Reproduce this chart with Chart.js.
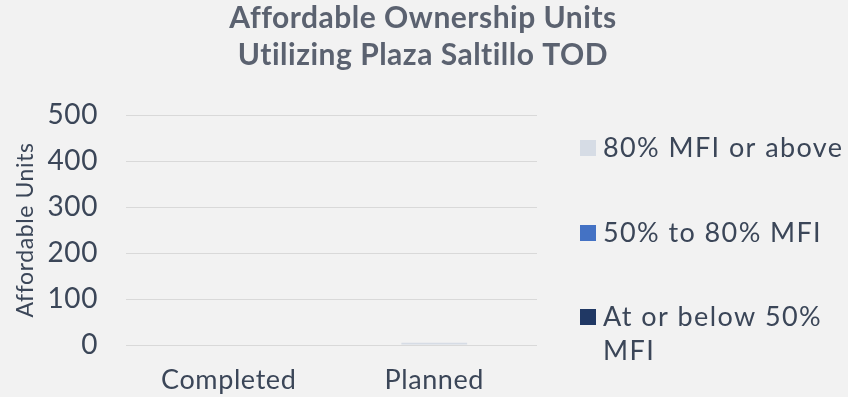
<!DOCTYPE html>
<html lang="en">
<head>
    <meta charset="UTF-8">
    <title>Affordable Ownership Units</title>
    <script src="https://cdn.jsdelivr.net/npm/chart.js@4.4.1/dist/chart.umd.min.js"></script>
    <style>
        html, body { margin: 0; padding: 0; background: #f2f2f2; }
        #wrap { width: 848px; height: 397px; }
    </style>
</head>
<body>
    <div id="wrap"><canvas id="unitsChart" width="848" height="397"></canvas></div>

    <script>
        // categories and units per income band
        var categories = ['Completed', 'Planned'];
        var atOrBelow50 = [0, 0];
        var from50to80 = [0, 0];
        var above80 = [0, 5];
        var yTicks = [0, 100, 200, 300, 400, 500];
        var titleLines = ['Affordable Ownership Units', 'Utilizing Plaza Saltillo TOD'];

        var textColor = '#3b4658';
        var fontFamily = 'Lato, "Open Sans", sans-serif';

        // wider tracking to get closer to the geometric face of the original
        var tracking = {
            id: 'tracking',
            beforeUpdate: function(chart) { chart.ctx.letterSpacing = '0.6px'; },
            beforeDraw: function(chart) { chart.ctx.letterSpacing = '0.6px'; }
        };

        // title across the whole canvas plus the legend on the right
        var sideLegend = {
            id: 'sideLegend',
            afterDraw: function(chart) {
                var ctx = chart.ctx;
                ctx.save();
                ctx.textBaseline = 'middle';
                ctx.textAlign = 'center';
                ctx.fillStyle = '#5b6270';
                ctx.letterSpacing = '0.5px';
                ctx.font = 'bold 30px ' + fontFamily;
                titleLines.forEach(function(line, i) {
                    ctx.fillText(line, 423, 18 + i * 37);
                });

                var items = [
                    { ds: chart.data.datasets[2], lines: ['80% MFI or above'], y: 148 },
                    { ds: chart.data.datasets[1], lines: ['50% to 80% MFI'], y: 233 },
                    { ds: chart.data.datasets[0], lines: ['At or below 50%', 'MFI'], y: 317 }
                ];
                ctx.textAlign = 'left';
                ctx.letterSpacing = '1.4px';
                ctx.font = '27px ' + fontFamily;
                items.forEach(function(it) {
                    ctx.fillStyle = it.ds.backgroundColor;
                    ctx.fillRect(580, it.y - 8, 16, 16);
                    ctx.fillStyle = textColor;
                    it.lines.forEach(function(line, i) {
                        ctx.fillText(line, 603, it.y + i * 34);
                    });
                });
                ctx.restore();
            }
        };

        new Chart(document.getElementById('unitsChart'), {
            type: 'bar',
            data: {
                labels: categories,
                datasets: [
                    { label: 'At or below 50% MFI', data: atOrBelow50, backgroundColor: '#203864' },
                    { label: '50% to 80% MFI', data: from50to80, backgroundColor: '#4472c4' },
                    { label: '80% MFI or above', data: above80, backgroundColor: '#d6dce5' }
                ]
            },
            options: {
                responsive: false,
                animation: false,
                layout: { padding: { left: 12, right: 311, top: 115, bottom: 0 } },
                datasets: { bar: { categoryPercentage: 1, barPercentage: 0.32 } },
                plugins: {
                    legend: { display: false },
                    tooltip: { enabled: false },
                    title: { display: false }
                },
                scales: {
                    x: {
                        stacked: true,
                        afterFit: function(axis) { axis.height = 52; },
                        grid: { display: false, drawTicks: false },
                        border: { display: false },
                        ticks: { color: textColor, font: { family: fontFamily, size: 27 }, padding: 19 }
                    },
                    y: {
                        stacked: true,
                        min: 0,
                        max: 500,
                        afterBuildTicks: function(axis) {
                            axis.ticks = yTicks.map(function(v) { return { value: v }; });
                        },
                        afterFit: function(axis) { axis.width = 114; },
                        grid: { color: '#d9d9d9', lineWidth: 1, drawTicks: false },
                        border: { display: false },
                        ticks: { color: textColor, font: { family: fontFamily, size: 28 }, padding: 28 },
                        title: {
                            display: true,
                            text: 'Affordable Units',
                            color: textColor,
                            font: { family: fontFamily, size: 23 },
                            padding: 0
                        }
                    }
                }
            },
            plugins: [tracking, sideLegend]
        });
    </script>
</body>
</html>
